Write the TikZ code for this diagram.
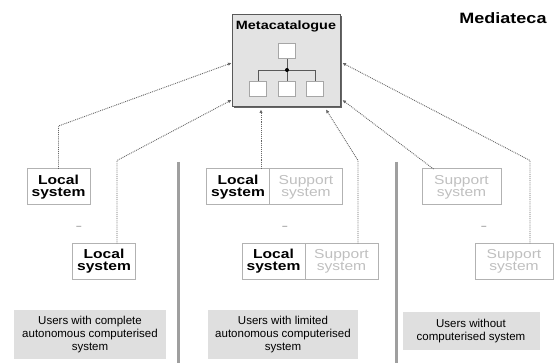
\documentclass[tikz,border=0pt]{standalone}
\usepackage{fontspec}
\setmainfont{Liberation Sans}
\newfontfamily\widefont[FakeStretch=1.2]{Liberation Sans}
\usetikzlibrary{arrows.meta,positioning,shadows}

\begin{document}
\begin{tikzpicture}[
    x=1pt, y=-1pt,
    node distance=0pt,
    sysbox/.style={draw=gray!60, line width=1pt, outer sep=0pt, minimum height=36pt, inner sep=1pt, align=center, font=\widefont\fontsize{13}{12}\selectfont\bfseries},
    localbox/.style={sysbox, minimum width=63pt},
    supportbox/.style={sysbox, minimum width=73pt, text=gray!50, font=\widefont\fontsize{13}{12}\selectfont},
    users/.style={fill=gray!25, align=center, inner sep=2pt, font=\fontsize{11.5}{13}\selectfont},
    leaf/.style={draw=gray!70, fill=white, line width=0.8pt, minimum width=17pt, minimum height=15pt, inner sep=0pt},
    link/.style={-{Latex[length=3.5pt,width=3.5pt]}, densely dotted, line width=0.9pt, gray!80!black},
    gapmark/.style={text=gray!70, font=\bfseries},
    divider/.style={line width=3pt, gray!75}
]
\useasboundingbox (0,0) rectangle (555,363);
\node[draw=gray!70!black, fill=gray!22, line width=1pt, minimum width=108pt, minimum height=92pt,
      drop shadow={shadow xshift=1.5pt, shadow yshift=-1.5pt, fill=gray!80!black, opacity=1}] (meta) at (286,61) {};
\node[below=3pt of meta.north, font=\widefont\fontsize{12}{12}\selectfont\bfseries] (title) {Metacatalogue};
\node[leaf] (root) at (287,51) {};
\node[leaf] (leafA) at (258,89) {};
\node[leaf] (leafB) at (287,89) {};
\node[leaf] (leafC) at (315,89) {};
\coordinate (fork) at (287,70);
\draw[gray!70!black, line width=0.8pt] (root) -- (fork);
\foreach \l in {leafA,leafB,leafC}
    \draw[gray!70!black, line width=0.8pt] (fork) -| (\l.north);
\fill (fork) circle (2pt);

\node[font=\widefont\fontsize{15}{15}\selectfont\bfseries] (brand) at (503,18) {Mediateca};

\node[localbox] (locA) at (58.5,187) {Local\\system};
\node[localbox] (locB) at (104,261.5) {Local\\system};
\node[localbox] (midlocA) at (238,187) {Local\\system};
\node[supportbox, right=of midlocA] (midsupA) {Support\\system};
\node[localbox] (midlocB) at (273.5,261.5) {Local\\system};
\node[supportbox, right=of midlocB] (midsupB) {Support\\system};
\node[supportbox, minimum width=79pt] (supA) at (461.5,187) {Support\\system};
\node[supportbox, minimum width=78pt] (supB) at (514,261.5) {Support\\system};

\node[gapmark] (gapL) at (79,228) {--};
\node[gapmark] (gapM) at (285,228) {--};
\node[gapmark] (gapR) at (484,228) {--};

\draw[divider] (178,162) -- (178,363);
\draw[divider] (396,162) -- (396,363);

\node[users, minimum width=152pt, minimum height=49pt] (usersA) at (90,335) {Users with complete\\autonomous computerised\\system};
\node[users, minimum width=150pt, minimum height=49pt] (usersB) at (283,335) {Users with limited\\autonomous computerised\\system};
\node[users, minimum width=137pt, minimum height=38pt] (usersC) at (471,331) {Users without\\computerised system};

\coordinate (inA) at ([yshift=-2pt]meta.west);
\coordinate (inB) at ([yshift=-39pt]meta.west);
\coordinate (inC) at ([xshift=-25pt,yshift=-2pt]meta.south);
\coordinate (inD) at ([xshift=40pt,yshift=-2pt]meta.south);
\coordinate (inE) at ([xshift=2pt,yshift=-39pt]meta.east);
\coordinate (inF) at ([xshift=2pt,yshift=-2pt]meta.east);

\draw[link] (locA.north) -- ++(0,-43) -- (inA);
\draw[link] ([xshift=13pt]locB.north) -- ++(0,-83) -- (inB);
\draw[link] (inC |- midlocA.north) -- (inC);
\draw[link] ([xshift=16.5pt]midsupB.north) -- ++(0,-83) -- (inD);
\draw[link] ([xshift=-28pt]supA.north) -- (inE);
\draw[link] ([xshift=16pt]supB.north) -- ++(0,-83) -- (inF);
\end{tikzpicture}
\end{document}
